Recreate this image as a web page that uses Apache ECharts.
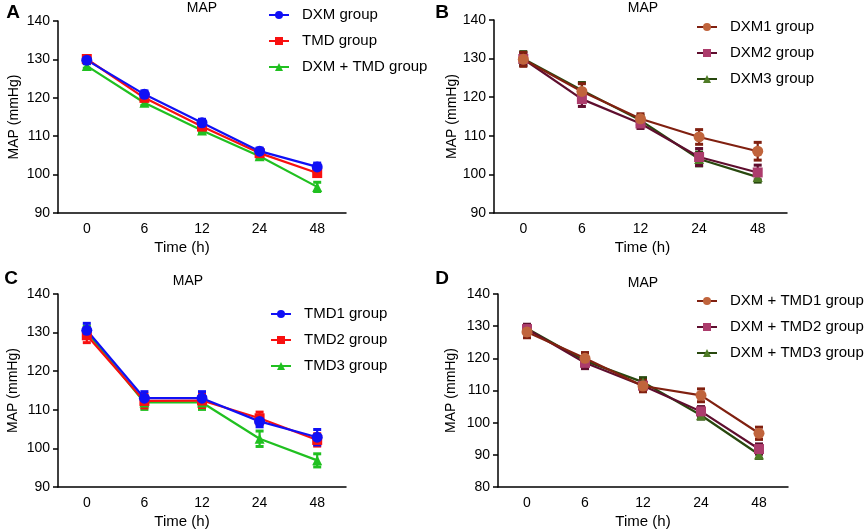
<!DOCTYPE html>
<html><head><meta charset="utf-8">
<script src="https://cdn.jsdelivr.net/npm/echarts@6/dist/echarts.min.js"></script>
<style>html,body{margin:0;padding:0;background:#fff}#c{width:865px;height:532px}</style>
</head><body><div id="c"></div>
<script>
const timeLabels = ['0', '6', '12', '24', '48'];

// Panel A
const dxmMean = [129.8, 120.9, 113.5, 106.1, 102.0];
const dxmSD   = [0.9, 0.9, 0.9, 0.8, 1.0];
const tmdMean = [130.1, 120.0, 112.5, 105.6, 100.4];
const tmdSD   = [0.9, 0.9, 0.8, 0.8, 0.9];
const dxmTmdMean = [128.3, 118.7, 111.5, 104.8, 96.8];
const dxmTmdSD   = [0.6, 0.7, 0.6, 0.6, 1.2];

// Panel B
const dxm1Mean = [129.8, 121.5, 114.4, 109.7, 106.0];
const dxm1SD   = [1.8, 2.0, 1.3, 1.9, 2.3];
const dxm2Mean = [129.9, 119.5, 113.2, 104.5, 100.5];
const dxm2SD   = [1.6, 1.9, 1.3, 2.2, 1.9];
const dxm3Mean = [130.0, 121.8, 114.0, 104.0, 99.3];
const dxm3SD   = [1.8, 2.0, 1.2, 1.8, 1.3];

// Panel C
const tmd1Mean = [130.6, 113.0, 113.0, 107.0, 102.9];
const tmd1SD   = [1.8, 1.7, 1.7, 1.4, 2.0];
const tmd2Mean = [129.3, 112.3, 112.4, 107.8, 102.2];
const tmd2SD   = [1.9, 1.8, 1.8, 1.6, 1.6];
const tmd3Mean = [130.2, 111.9, 111.9, 102.5, 96.9];
const tmd3SD   = [1.5, 1.8, 1.8, 2.0, 1.7];

// Panel D
const combo1Mean = [128.2, 120.0, 111.4, 108.5, 96.7];
const combo1SD   = [1.8, 1.8, 1.8, 2.0, 1.9];
const combo2Mean = [129.1, 118.6, 111.5, 103.5, 91.8];
const combo2SD   = [1.5, 1.8, 1.5, 1.5, 1.6];
const combo3Mean = [129.3, 119.2, 112.6, 102.3, 90.1];
const combo3SD   = [1.2, 1.5, 1.4, 1.2, 1.2];

const FONT = "'Liberation Sans', Arial, sans-serif";

const grids = [
  {left: 58, top: 21, width: 288, height: 192},
  {left: 494, top: 20, width: 293, height: 193},
  {left: 58, top: 294, width: 288, height: 193},
  {left: 498, top: 294, width: 290, height: 193}
];
const yRanges = [[90, 140], [90, 140], [90, 140], [80, 140]];
const yNameGaps = [37, 29, 38, 40];
const xNamePad = [[0, 40, 0, 0], [0, 0, 0, 4], [0, 40, 0, 0], [0, 0, 0, 0]];

const xAxes = grids.map((g, i) => ({
  type: 'category', gridIndex: i, data: timeLabels, boundaryGap: true,
  name: 'Time (h)', nameLocation: 'middle', nameGap: 27,
  nameTextStyle: {fontFamily: FONT, fontSize: 15, color: '#000', padding: xNamePad[i]},
  axisLine: {lineStyle: {color: '#000', width: 1.5}},
  axisTick: {alignWithLabel: true, length: 5, lineStyle: {color: '#000', width: 1.5}},
  axisLabel: {fontFamily: FONT, fontSize: 14, color: '#000', margin: 9},
  splitLine: {show: false}
}));
const yAxes = grids.map((g, i) => ({
  type: 'value', gridIndex: i, min: yRanges[i][0], max: yRanges[i][1], interval: 10,
  name: 'MAP (mmHg)', nameLocation: 'middle', nameGap: yNameGaps[i],
  nameTextStyle: {fontFamily: FONT, fontSize: 14, color: '#000'},
  axisLine: {show: true, lineStyle: {color: '#000', width: 1.5}},
  axisTick: {show: true, length: 5, lineStyle: {color: '#000', width: 1.5}},
  axisLabel: {fontFamily: FONT, fontSize: 14, color: '#000', margin: 8},
  splitLine: {show: false}
}));

function errRender(color) {
  return function (params, api) {
    const i = api.value(0), lo = api.value(1), hi = api.value(2);
    const top = api.coord([i, hi]), bot = api.coord([i, lo]);
    const w = 4;
    const st = {stroke: color, lineWidth: 2.2, fill: null};
    const cap = {stroke: color, lineWidth: 3, fill: null};
    return {type: 'group', children: [
      {type: 'line', shape: {x1: top[0], y1: top[1], x2: bot[0], y2: bot[1]}, style: st},
      {type: 'line', shape: {x1: top[0] - w, y1: top[1], x2: top[0] + w, y2: top[1]}, style: cap},
      {type: 'line', shape: {x1: bot[0] - w, y1: bot[1], x2: bot[0] + w, y2: bot[1]}, style: cap}
    ]};
  };
}

const series = [];
function addSeries(panel, name, mean, sd, lineColor, markColor, symbol, symSize) {
  series.push({
    type: 'custom', name: name + ' err', xAxisIndex: panel, yAxisIndex: panel, z: 1,
    renderItem: errRender(lineColor), encode: {x: 0, y: [1, 2]},
    data: mean.map((m, i) => [i, m - sd[i], m + sd[i]]), silent: true
  });
  series.push({
    type: 'line', name: name, xAxisIndex: panel, yAxisIndex: panel, z: 2,
    data: mean, symbol: symbol, symbolSize: symSize,
    lineStyle: {color: lineColor, width: 2.2},
    itemStyle: {color: markColor, borderWidth: 0},
    emphasis: {disabled: true}, animation: false
  });
}

const BLUE = '#1010f5', RED = '#f81010', GREEN = '#20c020';
// Panel A (reverse order so first group on top)
addSeries(0, 'DXM + TMD group', dxmTmdMean, dxmTmdSD, GREEN, GREEN, 'triangle', 10);
addSeries(0, 'TMD group', tmdMean, tmdSD, RED, RED, 'rect', 10);
addSeries(0, 'DXM group', dxmMean, dxmSD, BLUE, BLUE, 'circle', 11);
// Panel B
addSeries(1, 'DXM3 group', dxm3Mean, dxm3SD, '#28480e', '#4f7c26', 'triangle', 10);
addSeries(1, 'DXM2 group', dxm2Mean, dxm2SD, '#5e0e2e', '#ac3c6c', 'rect', 10);
addSeries(1, 'DXM1 group', dxm1Mean, dxm1SD, '#802010', '#c0643c', 'circle', 11);
// Panel C
addSeries(2, 'TMD3 group', tmd3Mean, tmd3SD, GREEN, GREEN, 'triangle', 10);
addSeries(2, 'TMD2 group', tmd2Mean, tmd2SD, RED, RED, 'rect', 10);
addSeries(2, 'TMD1 group', tmd1Mean, tmd1SD, BLUE, BLUE, 'circle', 11);
// Panel D
addSeries(3, 'DXM + TMD3 group', combo3Mean, combo3SD, '#28480e', '#4f7c26', 'triangle', 10);
addSeries(3, 'DXM + TMD2 group', combo2Mean, combo2SD, '#5e0e2e', '#ac3c6c', 'rect', 10);
addSeries(3, 'DXM + TMD1 group', combo1Mean, combo1SD, '#802010', '#c0643c', 'circle', 11);

const legendNames = [
  ['DXM group', 'TMD group', 'DXM + TMD group'],
  ['DXM1 group', 'DXM2 group', 'DXM3 group'],
  ['TMD1 group', 'TMD2 group', 'TMD3 group'],
  ['DXM + TMD1 group', 'DXM + TMD2 group', 'DXM + TMD3 group']
];
const legendPos = [[268, 7], [696, 19], [270, 306], [696, 293]];
const legends = legendNames.map((names, i) => ({
  orient: 'vertical', left: legendPos[i][0], top: legendPos[i][1],
  itemWidth: 20, itemHeight: 10, itemGap: 10, padding: 0,
  textStyle: {fontFamily: FONT, fontSize: 15, color: '#000', lineHeight: 16, padding: [0, 0, 0, 8]},
  data: names, selectedMode: false
}));

const titles = [[202, 8, 'MAP'], [643, 8, 'MAP'], [188, 281, 'MAP'], [643, 283, 'MAP']];
const letters = [[13, 13, 'A'], [442, 13, 'B'], [11, 279, 'C'], [442, 279, 'D']];
const graphics = [];
titles.forEach(t => graphics.push({type: 'text', x: t[0], y: t[1],
  style: {text: t[2], textAlign: 'center', textVerticalAlign: 'middle', font: '14px ' + FONT, fill: '#000'}}));
letters.forEach(t => graphics.push({type: 'text', x: t[0], y: t[1],
  style: {text: t[2], textAlign: 'center', textVerticalAlign: 'middle', font: 'bold 19px ' + FONT, fill: '#000'}}));

const chart = echarts.init(document.getElementById('c'), null, {renderer: 'canvas'});
chart.setOption({
  animation: false,
  backgroundColor: '#fff',
  grid: grids,
  xAxis: xAxes,
  yAxis: yAxes,
  legend: legends,
  graphic: graphics,
  series: series
});
</script>
</body></html>
